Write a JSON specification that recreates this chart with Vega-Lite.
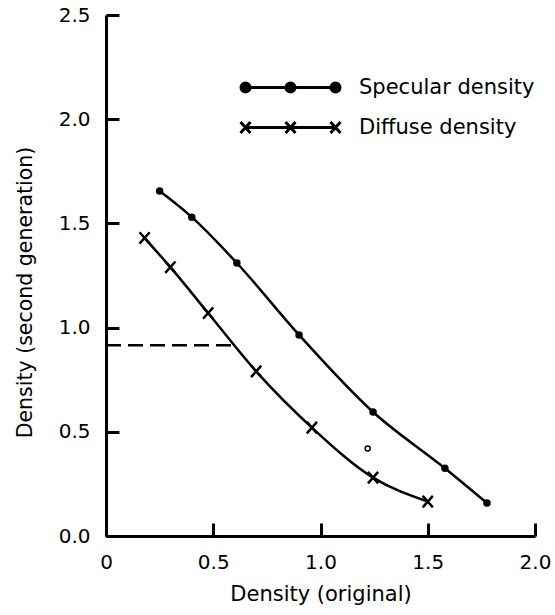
{
  "$schema": "https://vega.github.io/schema/vega-lite/v6.json",
  "width": 429,
  "height": 521,
  "autosize": {"type": "none"},
  "padding": {"left": 106, "top": 15, "right": 20, "bottom": 79},
  "background": "white",
  "config": {
    "view": {"stroke": null},
    "font": "DejaVu Sans",
    "axis": {
      "grid": false,
      "domainColor": "black",
      "domainWidth": 3,
      "tickColor": "black",
      "tickWidth": 3,
      "tickSize": -13,
      "labelColor": "black",
      "labelFontSize": 20,
      "labelFlush": false,
      "labelOverlap": false,
      "titleColor": "black",
      "titleFontWeight": "normal"
    }
  },
  "datasets": {
    "curves": [
      {"series": "Specular density", "x": 0.25, "y": 1.655},
      {"series": "Specular density", "x": 0.40, "y": 1.53},
      {"series": "Specular density", "x": 0.61, "y": 1.31},
      {"series": "Specular density", "x": 0.90, "y": 0.965},
      {"series": "Specular density", "x": 1.245, "y": 0.595},
      {"series": "Specular density", "x": 1.58, "y": 0.325},
      {"series": "Specular density", "x": 1.776, "y": 0.158},
      {"series": "Diffuse density", "x": 0.18, "y": 1.43},
      {"series": "Diffuse density", "x": 0.30, "y": 1.29},
      {"series": "Diffuse density", "x": 0.476, "y": 1.07},
      {"series": "Diffuse density", "x": 0.70, "y": 0.79},
      {"series": "Diffuse density", "x": 0.96, "y": 0.52},
      {"series": "Diffuse density", "x": 1.245, "y": 0.28},
      {"series": "Diffuse density", "x": 1.50, "y": 0.165}
    ],
    "dash": [
      {"x": 0, "y": 0.915},
      {"x": 0.60, "y": 0.915}
    ],
    "open": [
      {"x": 1.22, "y": 0.42}
    ]
  },
  "encoding": {
    "x": {
      "field": "x",
      "type": "quantitative",
      "scale": {"domain": [0, 2], "nice": false, "zero": false},
      "axis": {
        "title": "Density (original)",
        "titleFontSize": 21,
        "titleBaseline": "alphabetic",
        "titleY": 64,
        "values": [0, 0.5, 1, 1.5, 2],
        "labelExpr": "datum.value == 0 ? '0' : format(datum.value, '.1f')",
        "labelPadding": 29
      }
    },
    "y": {
      "field": "y",
      "type": "quantitative",
      "scale": {"domain": [0, 2.5], "nice": false, "zero": false},
      "axis": {
        "title": "Density (second generation)",
        "titleFontSize": 20.5,
        "titleBaseline": "alphabetic",
        "titleX": -75,
        "titleY": 277,
        "values": [0, 0.5, 1, 1.5, 2, 2.5],
        "format": ".1f",
        "labelPadding": 29
      }
    }
  },
  "layer": [
    {
      "data": {"name": "dash"},
      "mark": {"type": "line", "color": "black", "strokeWidth": 2.5, "strokeDash": [15, 7]}
    },
    {
      "data": {"name": "curves"},
      "mark": {"type": "line", "color": "black", "strokeWidth": 2.5, "interpolate": "monotone"},
      "encoding": {"detail": {"field": "series", "type": "nominal"}}
    },
    {
      "data": {"name": "curves"},
      "transform": [{"filter": "datum.series === 'Specular density'"}],
      "mark": {"type": "point", "shape": "circle", "filled": true, "fill": "black", "stroke": "black", "strokeWidth": 1.5, "size": 36, "opacity": 1}
    },
    {
      "data": {"name": "curves"},
      "transform": [{"filter": "datum.series === 'Diffuse density'"}],
      "mark": {"type": "point", "shape": "M-0.85,-0.95L0.85,0.95M-0.85,0.95L0.85,-0.95", "filled": false, "stroke": "black", "strokeWidth": 2.5, "size": 144, "opacity": 1}
    },
    {
      "data": {"name": "curves"},
      "transform": [{"filter": "false"}],
      "mark": {"type": "point", "filled": true, "fill": "black", "stroke": "black", "strokeWidth": 3, "opacity": 1},
      "encoding": {
        "shape": {
          "field": "series",
          "type": "nominal",
          "scale": {
            "domain": ["Specular density", "Diffuse density"],
            "range": [
              "M-4.5,0L4.5,0M-4.95,0A0.45,0.45 0 1,0 -4.05,0A0.45,0.45 0 1,0 -4.95,0M-0.45,0A0.45,0.45 0 1,0 0.45,0A0.45,0.45 0 1,0 -0.45,0M4.05,0A0.45,0.45 0 1,0 4.95,0A0.45,0.45 0 1,0 4.05,0",
              "M-4.5,0L4.5,0M-5,-0.55L-4,0.55M-5,0.55L-4,-0.55M-0.5,-0.55L0.5,0.55M-0.5,0.55L0.5,-0.55M4,-0.55L5,0.55M4,0.55L5,-0.55"
            ]
          },
          "legend": {
            "orient": "none",
            "legendX": 173,
            "legendY": 61,
            "title": null,
            "padding": 0,
            "labelFontSize": 21,
            "labelColor": "black",
            "labelLimit": 0,
            "labelOffset": 57,
            "rowPadding": 18,
            "symbolSize": 400,
            "symbolStrokeWidth": 3,
            "encode": {
              "symbols": {
                "update": {
                  "size": {"value": 400},
                  "fill": {"value": "black"},
                  "stroke": {"value": "black"},
                  "strokeWidth": {"value": 3},
                  "opacity": {"value": 1}
                }
              }
            }
          }
        }
      }
    },
    {
      "data": {"name": "open"},
      "mark": {"type": "point", "shape": "circle", "filled": false, "stroke": "black", "strokeWidth": 1.5, "size": 25, "opacity": 1}
    }
  ]
}
